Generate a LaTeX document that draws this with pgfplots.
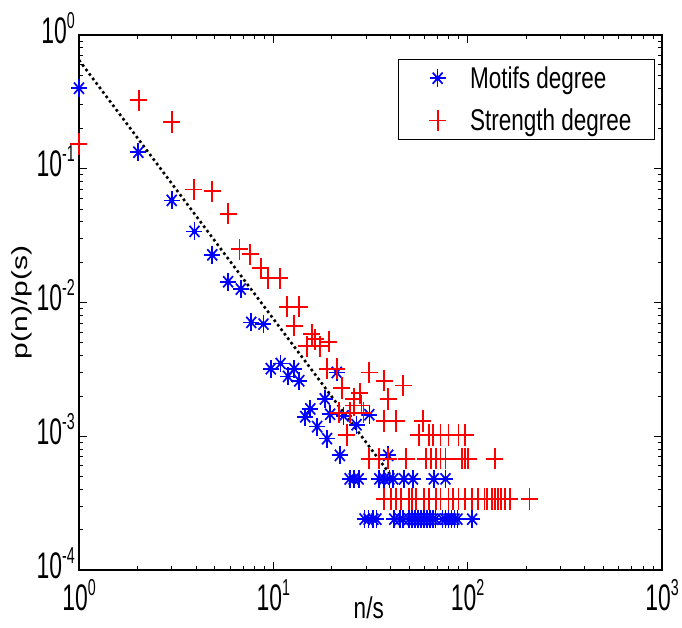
\documentclass[border=0pt]{standalone}
\usepackage{fontspec}
\setmainfont[FakeStretch=0.75]{Liberation Sans}
\newfontfamily\tickfont[FakeStretch=0.62]{Liberation Sans}
\newfontfamily\plainfont{Liberation Sans}
\usepackage{graphicx}
\usepackage{pgfplots}
\pgfplotsset{compat=1.18}
\definecolor{mred}{RGB}{255,0,0}
\definecolor{mblue}{RGB}{0,0,255}

\pgfdeclareplotmark{mstar}{%
  \pgfpathrectangle{\pgfqpoint{-\pgfplotmarksize}{-0.85pt}}{\pgfqpoint{2\pgfplotmarksize}{1.7pt}}\pgfusepathqfill
  \pgfpathrectangle{\pgfqpoint{-0.85pt}{-1.12\pgfplotmarksize}}{\pgfqpoint{1.7pt}{2.24\pgfplotmarksize}}\pgfusepathqfill
  \pgfpathmoveto{\pgfpoint{-0.62\pgfplotmarksize+0.6pt}{-0.7\pgfplotmarksize-0.6pt}}%
  \pgfpathlineto{\pgfpoint{0.62\pgfplotmarksize+0.6pt}{0.7\pgfplotmarksize-0.6pt}}%
  \pgfpathlineto{\pgfpoint{0.62\pgfplotmarksize-0.6pt}{0.7\pgfplotmarksize+0.6pt}}%
  \pgfpathlineto{\pgfpoint{-0.62\pgfplotmarksize-0.6pt}{-0.7\pgfplotmarksize+0.6pt}}%
  \pgfpathclose\pgfusepathqfill
  \pgfpathmoveto{\pgfpoint{0.62\pgfplotmarksize-0.6pt}{-0.7\pgfplotmarksize-0.6pt}}%
  \pgfpathlineto{\pgfpoint{-0.62\pgfplotmarksize-0.6pt}{0.7\pgfplotmarksize-0.6pt}}%
  \pgfpathlineto{\pgfpoint{-0.62\pgfplotmarksize+0.6pt}{0.7\pgfplotmarksize+0.6pt}}%
  \pgfpathlineto{\pgfpoint{0.62\pgfplotmarksize+0.6pt}{-0.7\pgfplotmarksize+0.6pt}}%
  \pgfpathclose\pgfusepathqfill
  \pgfpathcircle{\pgfpointorigin}{0.34\pgfplotmarksize}\pgfusepathqfill
}
\pgfdeclareplotmark{vplus}{%
  \pgfpathrectangle{\pgfqpoint{-\pgfplotmarksize}{-0.9pt}}{\pgfqpoint{2\pgfplotmarksize}{1.8pt}}\pgfusepathqfill
  \pgfpathrectangle{\pgfqpoint{-0.9pt}{-1.25\pgfplotmarksize}}{\pgfqpoint{1.8pt}{2.5\pgfplotmarksize}}\pgfusepathqfill
}

\pgfplotsset{mylegimg/.style={legend image code/.code={\path (0pt,0pt) (48pt,0pt); \draw[##1] plot coordinates {(18pt,0pt)};}}}

\newcommand\tp[1]{{\tickfont\fontsize{37}{40}\selectfont 10\raisebox{15pt}{\fontsize{23}{23}\selectfont #1}}}

\pgfplotstableread{
x y
1 0.40
2.02 0.133
3 0.058
3.93 0.034
4.85 0.0227
5.85 0.0143
6.8 0.0126
7.7 0.0071
8.9 0.0069
9.7 0.0032
10.9 0.0035
11.9 0.0028
12.8 0.0032
13.6 0.0026
14.6 0.0014
15.5 0.0016
16.8 0.00118
18.4 0.0019
19.6 0.00146
21.2 0.0030
18.9 0.00096
22.0 0.00072
23.0 0.00142
26.8 0.00122
31.2 0.00145
39.0 0.00072
24.7 0.00048
25.9 0.00048
27.5 0.00048
35.1 0.00048
37.2 0.00048
39.6 0.00048
41.4 0.00048
47.0 0.00048
52.3 0.00048
66.9 0.00048
76.9 0.00048
29.5 0.00024
30.9 0.00024
32.7 0.00024
33.9 0.00024
41.9 0.00024
44.8 0.00024
46.5 0.00024
49.9 0.00024
51.7 0.00024
53.4 0.00024
55.3 0.00024
57.4 0.00024
59.5 0.00024
61.6 0.00024
63.8 0.00024
66.1 0.00024
68.4 0.00024
74.1 0.00024
76.9 0.00024
79.7 0.00024
82.5 0.00024
85.5 0.00024
88.6 0.00024
105.5 0.00024
}\motifs

\pgfplotstableread{
x y
1 0.153
2.03 0.325
3 0.224
3.9 0.070
4.85 0.068
5.85 0.046
6.7 0.025
7.6 0.023
8.6 0.018
9.4 0.0152
10.8 0.0152
11.8 0.0093
13.6 0.0093
12.8 0.0067
15.8 0.0058
16.4 0.0053
14.9 0.0047
17.4 0.0047
19.3 0.0051
18.9 0.0032
21.2 0.0032
31.2 0.0030
37.2 0.0026
46.5 0.0024
22.5 0.0023
27.8 0.0021
25.9 0.0019
39.0 0.0019
25.9 0.0017
28.4 0.0017
21.7 0.0015
24.7 0.0015
29.1 0.0015
37.2 0.0013
42.8 0.0013
58.8 0.0013
23.9 0.00102
56.1 0.00102
63.1 0.00102
66.1 0.00102
72.5 0.00102
79.7 0.00102
89.6 0.00102
97.2 0.00102
31.2 0.00068
35.1 0.00068
39.0 0.00068
48.2 0.00068
60.9 0.00068
64.5 0.00068
68.4 0.00068
72.5 0.00068
76.9 0.00068
93.9 0.00068
97.2 0.00068
100.7 0.00068
138 0.00068
37.2 0.00034
40.4 0.00034
42.8 0.00034
45.2 0.00034
49.9 0.00034
51.7 0.00034
54.0 0.00034
59.5 0.00034
63.1 0.00034
68.4 0.00034
72.5 0.00034
79.7 0.00034
84.3 0.00034
89.6 0.00034
97.2 0.00034
105.5 0.00034
112.5 0.00034
122 0.00034
126 0.00034
133 0.00034
138 0.00034
143 0.00034
149 0.00034
155 0.00034
165 0.00034
208 0.00034
}\strength

\begin{document}
\begin{tikzpicture}
\begin{axis}[name=ax,
  xmode=log, ymode=log,
  scale only axis, width=583pt, height=535pt,
  xmin=1, xmax=1000, ymin=1e-4, ymax=1,
  xtick={1,10,100,1000}, xticklabels={\tp{0},\tp{1},\tp{2},\tp{3}},
  ytick={1e-4,1e-3,1e-2,1e-1,1}, yticklabels={\tp{-4},\tp{-3},\tp{-2},\tp{-1},\tp{0}},
  minor xtick={2,3,4,5,6,7,8,9,20,30,40,50,60,70,80,90,200,300,400,500,600,700,800,900},
  minor ytick={2e-4,3e-4,4e-4,5e-4,6e-4,7e-4,8e-4,9e-4,2e-3,3e-3,4e-3,5e-3,6e-3,7e-3,8e-3,9e-3,2e-2,3e-2,4e-2,5e-2,6e-2,7e-2,8e-2,9e-2,0.2,0.3,0.4,0.5,0.6,0.7,0.8,0.9},
  tick align=inside, major tick length=8pt, minor tick length=4.5pt,
  every tick/.style={black, line width=1pt},
  axis line style={line width=1.6pt},
  xticklabel style={anchor=north, inner sep=0pt, yshift=-9pt},
  yticklabel style={anchor=base east, inner sep=0pt, xshift=-4pt, yshift=-8pt},
  xlabel={\fontsize{30}{32}\selectfont n/s},
  xlabel style={at={(rel axis cs:0.497,-0.071)}, anchor=center, inner sep=0pt},
  ylabel={\scalebox{1}[0.73]{\plainfont\fontsize{30}{32}\selectfont p(n)/p(s)}},
  ylabel style={at={(rel axis cs:-0.0977,0.5)}, anchor=center, inner sep=0pt},
  clip=false,
  legend style={at={(rel axis cs:0.988,0.955)}, anchor=north east, draw=black, line width=1pt,
    font=\fontsize{30}{32}\selectfont, inner xsep=21pt, inner ysep=5pt, row sep=15pt,
    cells={anchor=west}},
]
\addplot[color=mblue, fill=mblue, only marks, mark=mstar, mark size=8pt, mylegimg]
  table[x=x,y=y] {\motifs};
\addlegendentry{Motifs degree}
\addplot[color=mred, fill=mred, only marks, mark=vplus, mark size=8.5pt, mylegimg]
  table[x=x,y=y] {\strength};
\addlegendentry{Strength degree}
\addplot[black, line width=2.6pt, dash pattern=on 2.6pt off 3pt, forget plot]
  coordinates {(1,0.65) (42,4.7e-4)};
\end{axis}
\pgfresetboundingbox
\path ([shift={(-79pt,-57pt)}]ax.south west) rectangle ([shift={(20pt,35pt)}]ax.north east);
\end{tikzpicture}
\end{document}
